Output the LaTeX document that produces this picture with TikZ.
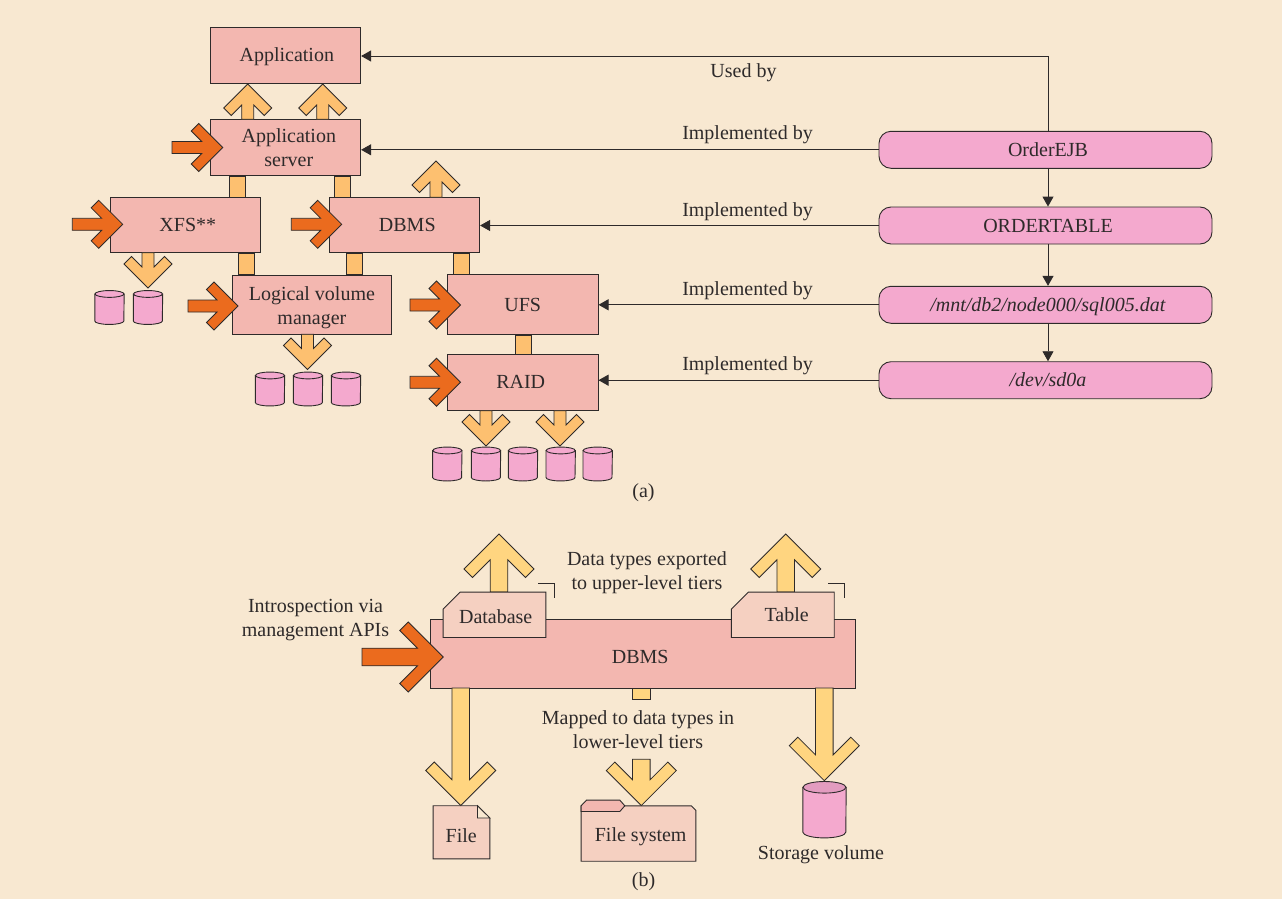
\documentclass[tikz,border=0pt]{standalone}
\usepackage{fontspec}
\setmainfont{Liberation Serif}
\usetikzlibrary{calc,arrows.meta}

\definecolor{paper}{HTML}{F8E8D1}
\definecolor{boxpink}{HTML}{F3B7B0}
\definecolor{tagpink}{HTML}{F5D0C1}
\definecolor{disk}{HTML}{F4A9CE}
\definecolor{disktop}{HTML}{E39CC0}
\definecolor{orangedark}{HTML}{EB6B1E}
\definecolor{orangelight}{HTML}{FDC070}
\definecolor{yellowfat}{HTML}{FFD580}
\definecolor{ink}{HTML}{2E2A2A}

\tikzset{
  every node/.style={font=\fontsize{20}{24}\selectfont, text=ink, inner sep=0pt, align=center},
  oneline/.style={text height=12.6pt, text depth=0pt},
  box/.style={draw=ink, line width=0.9pt, fill=boxpink, minimum width=150.7pt, minimum height=56.3pt},
  pill/.style={draw=ink, line width=0.9pt, fill=disk, rounded corners=12pt, minimum width=333pt, minimum height=37pt},
  tag/.style={minimum width=102.4pt, minimum height=45pt},
  drum/.style={minimum width=29pt, minimum height=33.5pt},
  drumline/.style={draw=ink, line width=0.9pt},
  link/.style={draw=ink, line width=0.9pt, -{Triangle[length=10pt,width=11pt]}},
  stub/.style={draw=ink, line width=0.8pt, fill=orangelight},
  cornermark/.style={draw=ink, line width=0.7pt},
  redfat/.style={draw=ink, line width=0.8pt, fill=orangedark},
  lightfat/.style={draw=ink, line width=0.8pt, fill=orangelight},
  yellowstyle/.style={draw=ink, line width=0.8pt, fill=yellowfat}
}

% tip at #3, tail at #2
\newcommand{\fatarrow}[6]{
  \path[#1] let \p1=($(#3)-(#2)$), \n1={atan2(\y1,\x1)}, \n2={veclen(\x1,\y1)} in
    [shift={(#3)}, rotate=\n1]
    (0pt,0pt) -- (-#4pt,#4pt) -- ({(-#4-#5)*1pt},{(#4-#5)*1pt}) -- ({(-2*#5-#6)*1pt},#6pt) -- (-\n2,#6pt)
    -- (-\n2,-#6pt) -- ({(-2*#5-#6)*1pt},-#6pt) -- ({(-#4-#5)*1pt},{(-#4+#5)*1pt}) -- (-#4pt,-#4pt) -- cycle;
}
\newcommand{\smallfat}[3]{\fatarrow{#1}{#2}{#3}{24}{7.5}{6}}
\newcommand{\largefat}[3]{\fatarrow{#1}{#2}{#3}{35}{8.5}{8.8}}
% bar joining two boxes, centred at x=#3
\newcommand{\joinbar}[3]{
  \draw[stub] ({#3-8},0 |- #1.south) rectangle ({#3+8},0 |- #2.north);
}
% node, half width, end height, end colour
\newcommand{\drumdraw}[4]{
  \draw[drumline, fill=disk] ($(#1.north west)+(0,#3)$) -- ($(#1.south west)+(0,-#3)$)
    arc[start angle=180, end angle=360, x radius=#2pt, y radius=#3pt] -- ($(#1.north east)+(0,#3)$) -- cycle;
  \draw[drumline, fill=#4] ($(#1.north)+(0,#3)$) circle[x radius=#2pt, y radius=#3pt];
}
% box with its upper left corner cut off
\newcommand{\tagdraw}[1]{
  \draw[drumline, fill=tagpink] ($(#1.north west)+(17,0)$) -- (#1.north east) -- (#1.south east)
    -- (#1.south west) -- ($(#1.north west)+(0,17)$) -- cycle;
}

\begin{document}
\begin{tikzpicture}[x=1pt,y=-1pt]
  \useasboundingbox (0,0) rectangle (1282,899);
  \fill[paper] (0,0) rectangle (1282,899);

  % (a)
  \node (application) [box, oneline] at (285.3,55.2) {\hspace*{3pt}Application};
  \node (server) [box, below of=application, node distance=92.5pt] {\hspace*{7pt}Application\\\hspace*{7pt}server};
  \node (xfs) [box, oneline, minimum height=55.4pt, below of=server, node distance=77.4pt, xshift=-100pt] {\hspace*{5pt}XFS**};
  \node (dbms) [box, oneline, minimum height=55.4pt, right of=xfs, node distance=219pt] {\hspace*{6pt}DBMS};
  \node (lvm) [box, minimum width=159.4pt, minimum height=59.3pt, below of=xfs, node distance=79.6pt, xshift=126.6pt] {\rule{0pt}{19.2pt}Logical volume\\manager};
  \node (ufs) [box, oneline, minimum height=60pt, right of=lvm, node distance=210.8pt] {UFS};
  \node (raid) [box, oneline, below of=ufs, node distance=77.9pt] {\hspace*{-4pt}RAID};

  \node (order) [pill, oneline] at (1045.5,149.8) {\hspace*{5pt}OrderEJB};
  \node (table) [pill, text height=14.4pt, text depth=0pt, below of=order, node distance=75.7pt] {\hspace*{5pt}ORDERTABLE};
  \node (sql) [pill, oneline, below of=table, node distance=79.3pt] {\hspace*{5pt}\textit{/mnt/db2/node000/sql005.dat}};
  \node (dev) [pill, oneline, below of=sql, node distance=75.4pt] {\hspace*{5pt}\textit{/dev/sd0a}};

  \node (xa) [drum] at (109.5,307.5) {};
  \node (xb) [drum, right of=xa, node distance=38.5pt] {};
  \node (la) [drum] at (270,389) {};
  \node (lb) [drum, right of=la, node distance=38pt] {};
  \node (lc) [drum, right of=lb, node distance=38pt] {};
  \node (ra) [drum] at (447.3,464) {};
  \node (rb) [drum, right of=ra, node distance=38.7pt] {};
  \node (rc) [drum, right of=rb, node distance=37pt] {};
  \node (rd) [drum, right of=rc, node distance=37.7pt] {};
  \node (re) [drum, right of=rd, node distance=37pt] {};
  \foreach \d in {xa,xb,la,lb,lc,ra,rb,rc,rd,re} {
    \drumdraw{\d}{14.5}{3.4}{disk}
  }

  \node (usedby) [oneline] at (743.5,71) {Used by};
  \node (impa) [oneline] at (747.5,133) {Implemented by};
  \node (impb) [oneline] at (747.5,210) {Implemented by};
  \node (impc) [oneline] at (747.5,289) {Implemented by};
  \node (impd) [oneline] at (747.5,364) {Implemented by};
  \node (capa) [oneline] at (643.5,491) {(a)};

  \coordinate (corner) at (1048,56);
  \draw[link] (order.north -| corner) -- (corner) -- (application.east |- corner);
  \path
    (order.west) edge[link] (order.west -| server.east)
    (table.west) edge[link] (table.west -| dbms.east)
    (sql.west) edge[link] (sql.west -| ufs.east)
    (dev.west) edge[link] (dev.west -| raid.east)
    (order.south -| corner) edge[link] (table.north -| corner)
    (table.south -| corner) edge[link] (sql.north -| corner)
    (sql.south -| corner) edge[link] (dev.north -| corner);

  \joinbar{server}{xfs}{237}
  \joinbar{server}{dbms}{342.7}
  \joinbar{xfs}{lvm}{246}
  \joinbar{dbms}{lvm}{354.7}
  \joinbar{dbms}{ufs}{461}
  \joinbar{ufs}{raid}{523}

  \smallfat{lightfat}{247.7,119.3}{247.7,84}
  \smallfat{lightfat}{322.7,119.3}{322.7,84}
  \smallfat{lightfat}{436,197.3}{436,161}
  \smallfat{lightfat}{148,252.7}{148,288}
  \smallfat{lightfat}{307.5,334.3}{307.5,369.5}
  \smallfat{lightfat}{486,410.7}{486,446}
  \smallfat{lightfat}{560,410.7}{560,446}

  \smallfat{redfat}{172,147.5}{222.7,147.5}
  \smallfat{redfat}{72.3,224.3}{122.7,224.3}
  \smallfat{redfat}{291.3,224.3}{341.7,224.3}
  \smallfat{redfat}{188,306}{238,306}
  \smallfat{redfat}{410,305}{460.5,305}
  \smallfat{redfat}{410,382.3}{460.5,382.3}

  % (b)
  \largefat{yellowstyle}{499,592}{499,534}
  \largefat{yellowstyle}{785.7,592}{785.7,534}

  \node (main) [box, text height=19.6pt, text depth=0pt, minimum width=424.7pt, minimum height=68.7pt] at (642.7,653.7) {\hspace*{-5pt}DBMS};
  \node (database) [tag] at (494.5,614.8) {};
  \node (tabletag) [tag] at (782.8,614.8) {};
  \tagdraw{database}
  \tagdraw{tabletag}
  \node (databasetext) [oneline] at (495.7,616.7) {Database};
  \node (tablebtext) [oneline] at (786.7,615.4) {Table};
  \draw[cornermark] (538.3,583.3) -- (554.3,583.3) -- (554.3,598.3);
  \draw[cornermark] (828.3,583.3) -- (844.3,583.3) -- (844.3,598.3);

  \node (file) [minimum width=56.4pt, minimum height=52.7pt] at (461.5,832.3) {};
  \draw[draw=ink, line width=0.9pt, fill=tagpink] (file.north west) -- ($(file.north east)+(-12.4,0)$)
    -- ($(file.north east)+(0,12.3)$) -- (file.south east) -- (file.south west) -- cycle;
  \draw[draw=ink, line width=0.8pt, fill=paper] ($(file.north east)+(-12.4,0)$) -- ($(file.north east)+(-12.4,12.3)$)
    -- ($(file.north east)+(0,12.3)$) -- cycle;
  \node (filetext) [oneline] at (461.3,835.7) {File};

  \node (folder) [minimum width=114.4pt, minimum height=55pt] at (638.5,833.5) {};
  \draw[draw=ink, line width=0.9pt, fill=tagpink] (folder.north west) -- ($(folder.north east)+(-4.7,0)$)
    -- ($(folder.north east)+(0,4.7)$) -- (folder.south east) -- (folder.south west) -- cycle;
  \draw[draw=ink, line width=0.9pt, fill=boxpink] (folder.north west) -- ($(folder.north west)+(5.4,-5.7)$)
    -- ($(folder.north west)+(38.7,-5.7)$) -- ($(folder.north west)+(43.7,0)$) -- ($(folder.north west)+(38.7,5.7)$)
    -- ($(folder.north west)+(0,5.7)$) -- cycle;
  \node (foldertext) [oneline] at (640.7,835) {File system};

  \node (volume) [drum, minimum width=43pt, minimum height=56pt] at (824.5,809.7) {};
  \drumdraw{volume}{21.5}{5.8}{disktop}
  \node (volumetext) [oneline] at (821,852.7) {Storage volume};

  \draw[stub, fill=yellowfat] (632.7,0 |- main.south) rectangle (650.7,699.3);
  \largefat{redfat}{362,657}{443.3,657}
  \largefat{yellowstyle}{460.7,688}{460.7,805.5}
  \largefat{yellowstyle}{641.3,759.3}{641.3,805.5}
  \largefat{yellowstyle}{824.3,688}{824.3,780.7}

  \node (intro) at (315.5,620) {Introspection via\\management APIs};
  \node (exported) at (647,573) {Data types exported\\to upper-level tiers};
  \node (mapped) at (638,730) {Mapped to data types in\\lower-level tiers};
  \node (capb) [oneline] at (643.5,880) {(b)};
\end{tikzpicture}
\end{document}
